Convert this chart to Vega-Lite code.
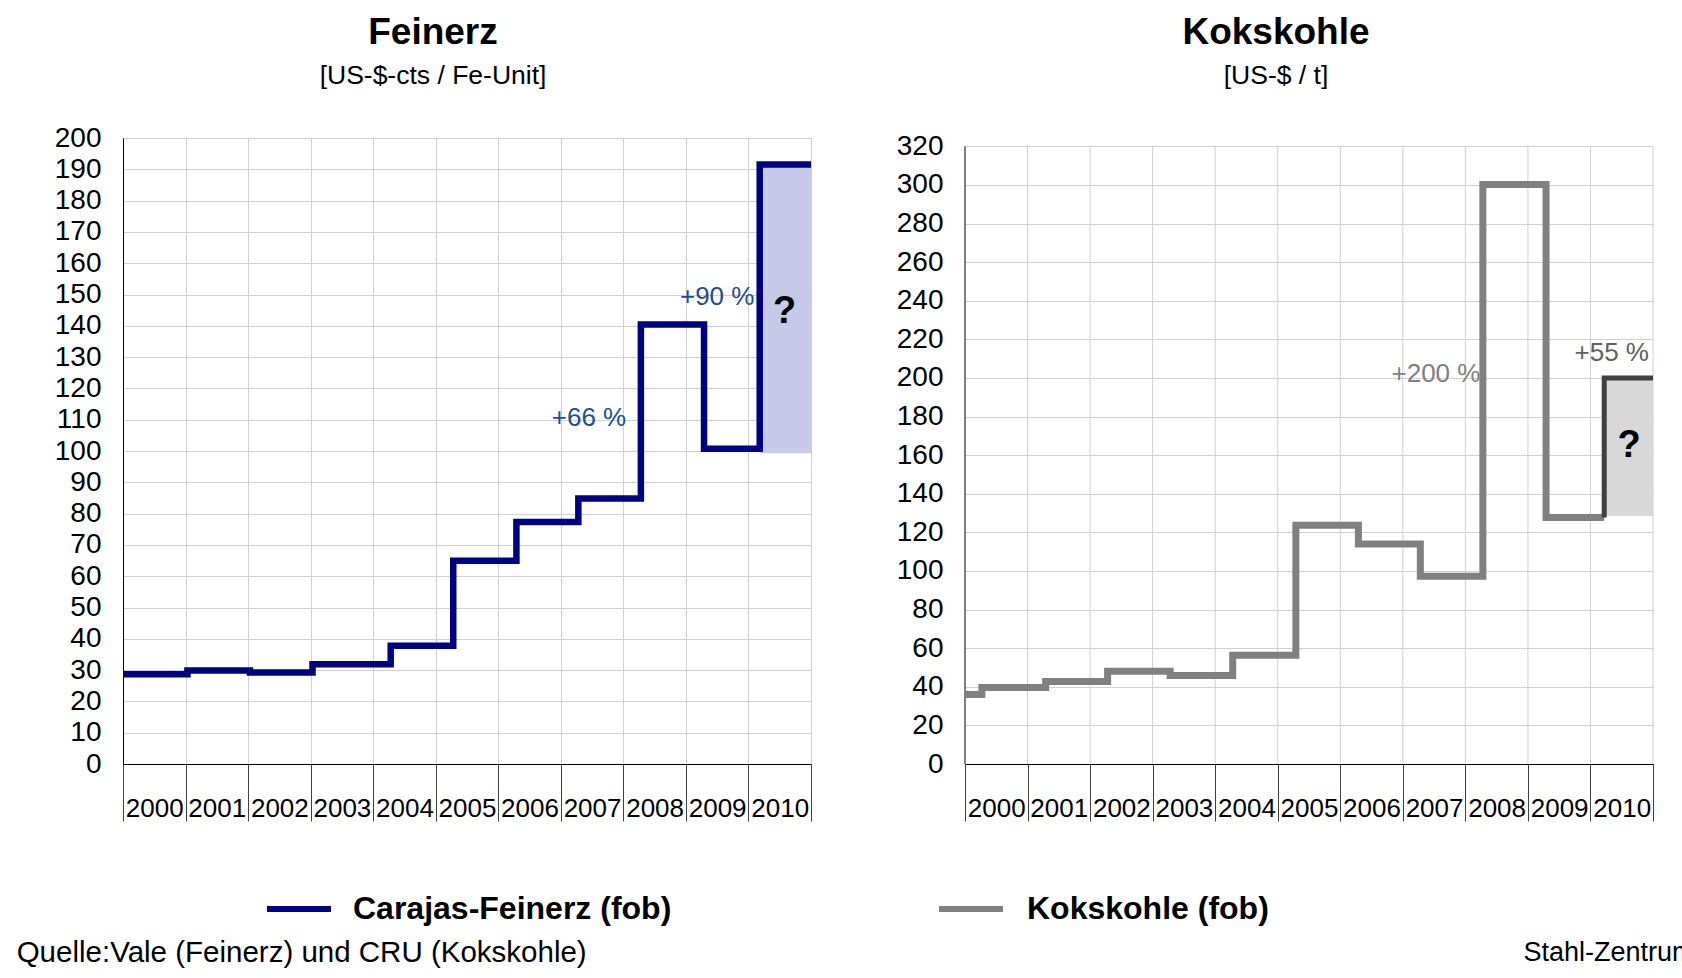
{
  "$schema": "https://vega.github.io/schema/vega-lite/v6.json",
  "background": "white",
  "padding": {"left": 16, "top": 13, "right": 0, "bottom": 0},
  "datasets": {
    "fe": [
      {"series": "Carajas-Feinerz (fob)", "year": 2000, "value": 28.7},
      {"series": "Carajas-Feinerz (fob)", "year": 2001.03, "value": 29.9},
      {"series": "Carajas-Feinerz (fob)", "year": 2002.03, "value": 29.2},
      {"series": "Carajas-Feinerz (fob)", "year": 2003.03, "value": 31.9},
      {"series": "Carajas-Feinerz (fob)", "year": 2004.28, "value": 37.8},
      {"series": "Carajas-Feinerz (fob)", "year": 2005.28, "value": 64.9},
      {"series": "Carajas-Feinerz (fob)", "year": 2006.29, "value": 77.3},
      {"series": "Carajas-Feinerz (fob)", "year": 2007.28, "value": 84.8},
      {"series": "Carajas-Feinerz (fob)", "year": 2008.28, "value": 140.4},
      {"series": "Carajas-Feinerz (fob)", "year": 2009.29, "value": 100.7},
      {"series": "Carajas-Feinerz (fob)", "year": 2010.18, "value": 191.5},
      {"series": "Carajas-Feinerz (fob)", "year": 2011, "value": 191.5}
    ],
    "feHatch": [{"start": 2010.18, "end": 2011, "low": 99.3, "high": 191.5}],
    "ko": [
      {"series": "Kokskohle (fob)", "year": 2000, "value": 36.0},
      {"series": "Kokskohle (fob)", "year": 2000.27, "value": 39.6},
      {"series": "Kokskohle (fob)", "year": 2001.29, "value": 42.7},
      {"series": "Kokskohle (fob)", "year": 2002.28, "value": 48.0},
      {"series": "Kokskohle (fob)", "year": 2003.28, "value": 45.9},
      {"series": "Kokskohle (fob)", "year": 2004.28, "value": 56.4},
      {"series": "Kokskohle (fob)", "year": 2005.29, "value": 123.7},
      {"series": "Kokskohle (fob)", "year": 2006.29, "value": 114.0},
      {"series": "Kokskohle (fob)", "year": 2007.28, "value": 97.2},
      {"series": "Kokskohle (fob)", "year": 2008.28, "value": 300.2},
      {"series": "Kokskohle (fob)", "year": 2009.29, "value": 127.7},
      {"series": "Kokskohle (fob)", "year": 2010.22, "value": 127.7}
    ],
    "koDark": [
      {"year": 2010.22, "value": 127.7},
      {"year": 2011, "value": 200}
    ],
    "koHatch": [{"start": 2010.22, "end": 2011, "low": 128.5, "high": 200}],
    "yearLines": [
      {"year": 2001}, {"year": 2002}, {"year": 2003}, {"year": 2004}, {"year": 2005}, {"year": 2006},
      {"year": 2007}, {"year": 2008}, {"year": 2009}, {"year": 2010}, {"year": 2011}
    ]
  },
  "spacing": 53,
  "resolve": {"scale": {"color": "independent"}, "legend": {"color": "independent"}},
  "config": {
    "view": {"stroke": null},
    "font": "Liberation Sans",
    "axis": {"labelFont": "Liberation Sans", "labelColor": "black", "title": null, "gridColor": "#d0d0d0", "gridWidth": 1, "domainColor": "black", "domainWidth": 1, "labelOverlap": false, "labelSeparation": 0},
    "title": {"fontSize": 37, "fontWeight": "bold", "font": "Liberation Sans", "color": "black", "subtitleFontSize": 26.5, "subtitleFont": "Liberation Sans", "subtitleColor": "black", "subtitlePadding": 11, "anchor": "middle", "frame": "group"},
    "legend": {"orient": "none", "symbolType": "stroke", "symbolSize": 4096, "symbolStrokeWidth": 6, "labelFontSize": 32, "labelFontWeight": "bold", "labelFont": "Liberation Sans", "labelColor": "black", "title": null, "padding": 0, "labelLimit": 0}
  },
  "hconcat": [
    {
      "width": 688,
      "height": 626,
      "title": {"text": "Feinerz", "subtitle": "[US-$-cts / Fe-Unit]", "dx": -34, "offset": 34},
      "layer": [
        {
          "data": {"name": "feHatch"},
          "mark": {"type": "rect", "fill": "#c6c9e8"},
          "encoding": {
            "x": {"field": "start", "type": "quantitative", "scale": {"domain": [2000, 2011], "nice": false, "zero": false},
              "axis": {"values": [2000, 2001, 2002, 2003, 2004, 2005, 2006, 2007, 2008, 2009, 2010, 2011], "tickCount": 30, "labelExpr": "datum.value < 2011 ? '' + datum.value : ''", "tickSize": 57, "tickColor": "#404040", "grid": true, "labelOffset": 31.25, "labelAlign": "center", "labelBaseline": "middle", "labelPadding": -13, "labelFontSize": 26, "labelFlush": false, "labelOverlap": false, "labelBound": false}},
            "x2": {"field": "end"},
            "y": {"field": "low", "type": "quantitative", "scale": {"domain": [0, 200], "nice": false},
              "axis": {"values": [0, 10, 20, 30, 40, 50, 60, 70, 80, 90, 100, 110, 120, 130, 140, 150, 160, 170, 180, 190, 200], "tickCount": 30, "ticks": false, "labelPadding": 22, "labelFontSize": 28, "labelOverlap": false, "labelFlush": false, "grid": true}},
            "y2": {"field": "high"}
          }
        },
        {
          "data": {"name": "fe"},
          "mark": {"type": "line", "interpolate": "step-after", "strokeWidth": 6.5, "strokeJoin": "miter"},
          "encoding": {
            "x": {"field": "year", "type": "quantitative"},
            "y": {"field": "value", "type": "quantitative"},
            "color": {"field": "series", "type": "nominal", "scale": {"range": ["#000080"]}, "legend": {"legendX": 141, "legendY": 736, "labelOffset": 19}}
          }
        },
        {
          "data": {"values": [{}]},
          "mark": {"type": "text", "text": "+66 %", "fontSize": 26, "color": "#1f4e8c", "align": "center", "baseline": "middle"},
          "encoding": {"x": {"datum": 2007.45}, "y": {"datum": 110.4}}
        },
        {
          "data": {"values": [{}]},
          "mark": {"type": "text", "text": "+90 %", "fontSize": 26, "color": "#1f4e8c", "align": "center", "baseline": "middle"},
          "encoding": {"x": {"datum": 2009.5}, "y": {"datum": 149.3}}
        },
        {
          "data": {"values": [{}]},
          "mark": {"type": "text", "text": "?", "fontSize": 38, "fontWeight": "bold", "color": "black", "align": "center", "baseline": "middle"},
          "encoding": {"x": {"datum": 2010.58}, "y": {"datum": 144.5}}
        },
        {
          "data": {"values": [{}]},
          "mark": {"type": "text", "text": "Quelle:Vale (Feinerz) und CRU (Kokskohle)", "fontSize": 29.5, "color": "black", "align": "left", "baseline": "middle"},
          "encoding": {"x": {"datum": 1998.3}, "y": {"datum": -60.3}}
        }
      ]
    },
    {
      "width": 688,
      "height": 626,
      "title": {"text": "Kokskohle", "subtitle": "[US-$ / t]", "dx": -33, "offset": 41.5},
      "layer": [
        {
          "data": {"name": "koHatch"},
          "mark": {"type": "rect", "fill": "#d8d8d8"},
          "encoding": {
            "x": {"field": "start", "type": "quantitative", "scale": {"domain": [2000, 2011], "nice": false, "zero": false},
              "axis": {"values": [2000, 2001, 2002, 2003, 2004, 2005, 2006, 2007, 2008, 2009, 2010, 2011], "tickCount": 30, "labelExpr": "datum.value < 2011 ? '' + datum.value : ''", "tickSize": 57, "tickColor": "#404040", "grid": false, "labelOffset": 31.25, "labelAlign": "center", "labelBaseline": "middle", "labelPadding": -13, "labelFontSize": 26, "labelFlush": false, "labelOverlap": false, "labelBound": false}},
            "x2": {"field": "end"},
            "y": {"field": "low", "type": "quantitative", "scale": {"domain": [0, 324.3], "nice": false},
              "axis": {"values": [0, 20, 40, 60, 80, 100, 120, 140, 160, 180, 200, 220, 240, 260, 280, 300, 320], "tickCount": 30, "ticks": false, "domain": false, "labelPadding": 22, "labelFontSize": 28, "labelOverlap": false, "labelFlush": false, "grid": true}},
            "y2": {"field": "high"}
          }
        },
        {
          "data": {"name": "yearLines"},
          "mark": {"type": "rule", "color": "#d0d0d0", "strokeWidth": 1},
          "encoding": {
            "x": {"field": "year", "type": "quantitative"},
            "y": {"datum": 0},
            "y2": {"datum": 320}
          }
        },
        {
          "data": {"values": [{}]},
          "mark": {"type": "rule", "color": "black", "strokeWidth": 1},
          "encoding": {
            "x": {"datum": 2000},
            "y": {"datum": 0},
            "y2": {"datum": 320}
          }
        },
        {
          "data": {"name": "ko"},
          "mark": {"type": "line", "interpolate": "step-after", "strokeWidth": 7, "strokeJoin": "miter"},
          "encoding": {
            "x": {"field": "year", "type": "quantitative"},
            "y": {"field": "value", "type": "quantitative"},
            "color": {"field": "series", "type": "nominal", "scale": {"range": ["#808080"]}, "legend": {"legendX": -29, "legendY": 736, "labelOffset": 21}}
          }
        },
        {
          "data": {"name": "koDark"},
          "mark": {"type": "line", "interpolate": "step-before", "strokeWidth": 5, "strokeJoin": "miter", "color": "#404040"},
          "encoding": {
            "x": {"field": "year", "type": "quantitative"},
            "y": {"field": "value", "type": "quantitative"}
          }
        },
        {
          "data": {"values": [{}]},
          "mark": {"type": "text", "text": "+200 %", "fontSize": 26, "color": "#7f7f7f", "align": "center", "baseline": "middle"},
          "encoding": {"x": {"datum": 2007.53}, "y": {"datum": 202}}
        },
        {
          "data": {"values": [{}]},
          "mark": {"type": "text", "text": "+55 %", "fontSize": 26, "color": "#606060", "align": "center", "baseline": "middle"},
          "encoding": {"x": {"datum": 2010.34}, "y": {"datum": 212.8}}
        },
        {
          "data": {"values": [{}]},
          "mark": {"type": "text", "text": "?", "fontSize": 38, "fontWeight": "bold", "color": "black", "align": "center", "baseline": "middle"},
          "encoding": {"x": {"datum": 2010.62}, "y": {"datum": 164.7}}
        },
        {
          "data": {"values": [{}]},
          "mark": {"type": "text", "text": "Stahl-Zentrum", "fontSize": 27, "color": "black", "align": "left", "baseline": "middle"},
          "encoding": {"x": {"datum": 2008.93}, "y": {"datum": -97.8}}
        }
      ]
    }
  ]
}
